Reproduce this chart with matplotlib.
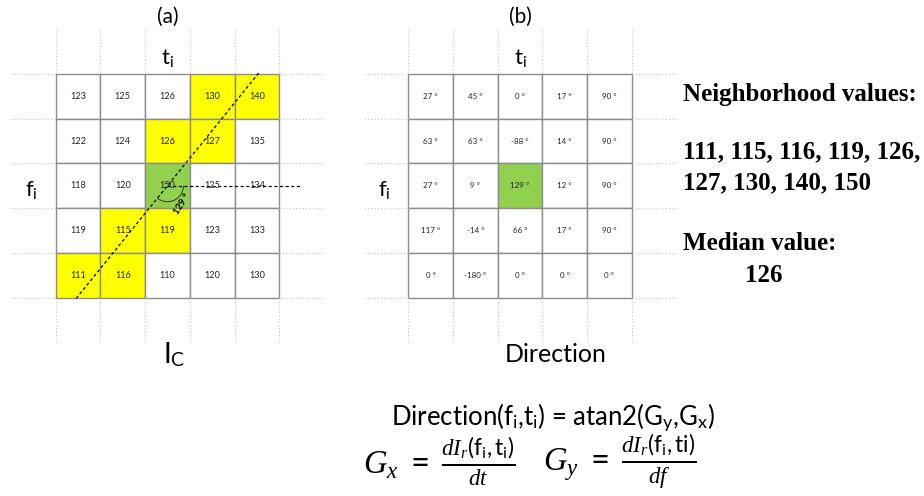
import numpy as np
import matplotlib
matplotlib.use('Agg')
from matplotlib import pyplot as plt
from matplotlib.patches import Rectangle, Arc

plt.rcParams['mathtext.fontset'] = 'custom'
plt.rcParams['mathtext.rm'] = 'Lato'
plt.rcParams['mathtext.it'] = 'Liberation Serif:italic'
plt.rcParams['mathtext.bf'] = 'Lato:bold'

# intensity values I_C around (f_i, t_i)
intensity = np.array([[123, 125, 126, 130, 140],
                      [122, 124, 126, 127, 135],
                      [118, 120, 150, 125, 134],
                      [119, 115, 119, 123, 133],
                      [111, 116, 110, 120, 130]])

# gradient direction (degrees) for each cell
direction = np.array([[27, 45, 0, 17, 90],
                      [63, 63, -88, 14, 90],
                      [27, 9, 129, 12, 90],
                      [117, -14, 66, 17, 90],
                      [0, -180, 0, 0, 0]])

# cells lying along the direction line (row, col)
neigh_cells = [(0, 3), (0, 4), (1, 2), (1, 3), (3, 1), (3, 2), (4, 0), (4, 1)]
center = (2, 2)

colorYellow = '#ffff00'
colorGreen = '#92d050'
colorGrid = '#8c8c8c'
colorDots = '#c8c8c8'

cell = 44.7
y0 = 74.0
xa = 55.7
xb = 408.3
n = intensity.shape[0]

fig = plt.figure(figsize=(9.24, 4.96), dpi=100)
ax = fig.add_axes([0, 0, 1, 1])
ax.set_xlim(0, 924)
ax.set_ylim(496, 0)
ax.axis('off')


def draw_grid(x0, values, fmt, highlight, fsize):
    for r in range(n):
        for c in range(n):
            fc = 'white'
            if (r, c) in highlight:
                fc = colorYellow
            if (r, c) == center:
                fc = colorGreen
            ax.add_patch(Rectangle((x0 + c*cell, y0 + r*cell), cell, cell,
                                   facecolor=fc, edgecolor=colorGrid, lw=1.0))
            ax.text(x0 + (c + 0.5)*cell, y0 + (r + 0.5)*cell, fmt(values[r, c]),
                    ha='center', va='center', fontsize=fsize,
                    family='Lato', color='#222222')
    # dotted extensions of the grid lines
    for k in range(n + 1):
        x = x0 + k*cell
        ax.plot([x, x], [y0 - cell, y0], ls=':', color=colorDots, lw=0.9)
        ax.plot([x, x], [y0 + n*cell, y0 + (n + 1)*cell], ls=':', color=colorDots, lw=0.9)
        y = y0 + k*cell
        ax.plot([x0 - cell, x0], [y, y], ls=':', color=colorDots, lw=0.9)
        ax.plot([x0 + n*cell, x0 + (n + 1)*cell], [y, y], ls=':', color=colorDots, lw=0.9)
    # axis labels
    ax.text(x0 + 2.5*cell, y0 - 16, r'$\mathrm{t}_\mathrm{i}$', ha='center',
            va='center', fontsize=16)
    ax.text(x0 - 24, y0 + 2.6*cell, r'$\mathrm{f}_\mathrm{i}$', ha='center',
            va='center', fontsize=16)


draw_grid(xa, intensity, lambda v: str(v), neigh_cells, 6.6)
draw_grid(xb, direction, lambda v: '%d °' % v, [], 5.8)

ax.text(xa + 2.5*cell, 17, '(a)', ha='center', va='center', fontsize=15, family='Lato')
ax.text(xb + 2.5*cell, 17, '(b)', ha='center', va='center', fontsize=15, family='Lato')
ax.text(xa + 2.65*cell, 355, r'$\mathrm{I}_\mathrm{C}$', ha='center', va='center', fontsize=20)
ax.text(xb + 3.3*cell, 355, 'Direction', ha='center', va='center', fontsize=18, family='Lato')

# direction line through the centre cell
theta = direction[center]
cx = xa + (center[1] + 0.5)*cell
cy = y0 + (center[0] + 0.5)*cell
L = 145
dx, dy = L*np.cos(np.radians(theta)), L*np.sin(np.radians(theta))
ax.plot([cx - dx, cx + dx], [cy - dy, cy + dy], color='black', lw=0.9,
        ls=(0, (2.5, 2)))
ax.plot([cx, cx + 3*cell], [cy, cy], color='black', lw=0.9, ls=(0, (2.5, 2)))
ax.add_patch(Arc((cx, cy), 32, 32, theta1=0, theta2=theta, color='#333333', lw=0.7))
ax.text(cx + 15, cy + 18, '%d °' % theta, rotation=57, ha='center', va='center',
        fontsize=6.8, fontweight='bold', family='Lato')

# neighbourhood values and their median
neigh = sorted([intensity[rc] for rc in neigh_cells] + [intensity[center]])
neigh_str = [str(v) for v in neigh]
serif = dict(family='Liberation Serif', fontweight='bold', fontsize=18)
ax.text(683, 95, 'Neighborhood values:', va='center', **serif)
ax.text(683, 152, ', '.join(neigh_str[:5]) + ',', va='center', **serif)
ax.text(683, 183, ', '.join(neigh_str[5:]), va='center', **serif)
ax.text(683, 244, 'Median value:', va='center', **serif)
ax.text(745, 276, '%d' % np.median(neigh), va='center', **serif)

# formulas
ax.text(553, 418, r'Direction($\mathrm{f}_\mathrm{i}$,$\mathrm{t}_\mathrm{i}$) = atan2($\mathrm{G}_\mathrm{y}$,$\mathrm{G}_\mathrm{x}$)',
        ha='center', va='center', fontsize=18.5, family='Lato')
ax.text(363, 462, r'$G_x\ =\ \frac{dI_r(\mathrm{f}_\mathrm{i}\mathrm{,t}_\mathrm{i})}{dt}$',
        ha='left', va='center', fontsize=23.5)
ax.text(543, 462, r'$G_y\ =\ \frac{dI_r(\mathrm{f}_\mathrm{i}\mathrm{,ti})}{df}$',
        ha='left', va='center', fontsize=23.5)

fig.savefig('out.png', dpi=100)
